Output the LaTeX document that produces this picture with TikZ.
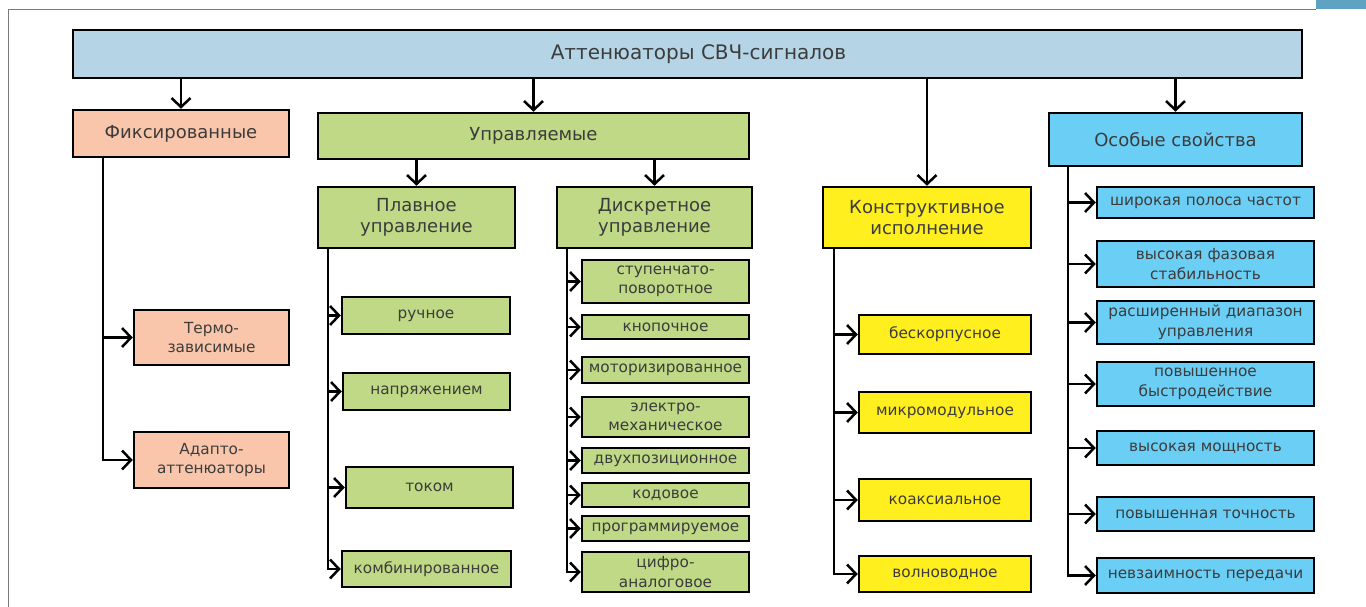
\documentclass[tikz,border=0pt]{standalone}
\usepackage{fontspec}
\setmainfont{DejaVu Sans}
\usetikzlibrary{arrows.meta}
\definecolor{txt}{HTML}{3C3C3C}
\definecolor{cmain}{HTML}{B5D4E5}
\definecolor{cfix}{HTML}{F9C6AB}
\definecolor{cgreen}{HTML}{BFD986}
\definecolor{cyel}{HTML}{FFEF1E}
\definecolor{ccyan}{HTML}{6BCEF5}
\definecolor{cframe}{HTML}{7A7A7A}
\definecolor{cpatch}{HTML}{5EA4C2}
\tikzset{
  box/.style={draw=black, line width=2.5pt, text=txt, align=center, inner sep=0pt, rectangle},
  big/.style={font=\fontsize{20}{24}\selectfont},
  mid/.style={font=\fontsize{18}{21}\selectfont},
  sml/.style={font=\fontsize{15.3}{19.5}\selectfont},
  arr/.style={line width=2.5pt, -{Straight Barb[length=9pt,width=19pt,line width=2.5pt]}},
}
\begin{document}
\begin{tikzpicture}[x=1pt,y=-1pt]
\useasboundingbox (0,0) rectangle (1366,607);
% frame
\fill[cpatch] (1316,0) rectangle (1366,9);
\draw[cframe, line width=1.3pt] (8.5,607) -- (8.5,9.5) -- (1316,9.5);
% top level
\node[box, big, fill=cmain, minimum width=1229pt, minimum height=48pt] (main) at (687.5,54) {\hspace*{22pt}Аттенюаторы СВЧ-сигналов};
\node[box, mid, fill=cfix, minimum width=216pt, minimum height=47pt] (fix) at (181,133.5) {Фиксированные};
\node[box, mid, fill=cgreen, minimum width=431pt, minimum height=46pt] (upr) at (533.5,136) {Управляемые};
\node[box, mid, fill=cyel, minimum width=208pt, minimum height=61pt] (kon) at (927,217.5) {Конструктивное\\исполнение};
\node[box, mid, fill=ccyan, minimum width=253pt, minimum height=53pt] (osob) at (1175.5,139.5) {Особые свойства};
\node[box, mid, fill=cgreen, minimum width=197pt, minimum height=61pt] (plav) at (416.5,217.5) {Плавное\\управление};
\node[box, mid, fill=cgreen, minimum width=195pt, minimum height=61pt] (disk) at (654.5,217.5) {Дискретное\\управление};
% fixed children
\node[box, sml, fill=cfix, minimum width=155pt, minimum height=55pt] (termo) at (211.5,337.5) {Термо-\\зависимые};
\node[box, sml, fill=cfix, minimum width=155pt, minimum height=56pt] (adapt) at (211.5,460) {Адапто-\\аттенюаторы};
% smooth children
\node[box, sml, fill=cgreen, minimum width=168pt, minimum height=37pt] (ruch) at (426,315.5) {ручное};
\node[box, sml, fill=cgreen, minimum width=167pt, minimum height=37pt] (napr) at (426.5,391.5) {напряжением};
\node[box, sml, fill=cgreen, minimum width=167pt, minimum height=41pt] (tok) at (429.5,487.5) {током};
\node[box, sml, fill=cgreen, minimum width=169pt, minimum height=36pt] (komb) at (426.5,569) {комбинированное};
% discrete children
\node[box, sml, fill=cgreen, minimum width=167pt, minimum height=43pt] (stup) at (665.5,281.5) {ступенчато-\\поворотное};
\node[box, sml, fill=cgreen, minimum width=167pt, minimum height=24pt] (knop) at (665.5,327) {кнопочное};
\node[box, sml, fill=cgreen, minimum width=167pt, minimum height=26pt] (motor) at (665.5,370) {моторизированное};
\node[box, sml, fill=cgreen, minimum width=167pt, minimum height=40pt] (elek) at (665.5,417) {электро-\\механическое};
\node[box, sml, fill=cgreen, minimum width=167pt, minimum height=25pt] (dvuh) at (665.5,460.5) {двухпозиционное};
\node[box, sml, fill=cgreen, minimum width=167pt, minimum height=24pt] (kod) at (665.5,495) {кодовое};
\node[box, sml, fill=cgreen, minimum width=167pt, minimum height=25pt] (prog) at (665.5,528.5) {программируемое};
\node[box, sml, fill=cgreen, minimum width=167pt, minimum height=40pt] (cifr) at (665.5,572) {цифро-\\аналоговое};
% construction children
\node[box, sml, fill=cyel, minimum width=172pt, minimum height=39pt] (besk) at (945,334.5) {бескорпусное};
\node[box, sml, fill=cyel, minimum width=172pt, minimum height=41pt] (mikr) at (945,412.5) {микромодульное};
\node[box, sml, fill=cyel, minimum width=172pt, minimum height=42pt] (koax) at (945,500) {коаксиальное};
\node[box, sml, fill=cyel, minimum width=172pt, minimum height=36pt] (voln) at (945,574) {волноводное};
% special children
\node[box, sml, fill=ccyan, minimum width=217pt, minimum height=31pt] (shir) at (1205.5,202.5) {широкая полоса частот};
\node[box, sml, fill=ccyan, minimum width=217pt, minimum height=46pt] (faz) at (1205.5,264) {высокая фазовая\\стабильность};
\node[box, sml, fill=ccyan, minimum width=217pt, minimum height=43pt] (rash) at (1205.5,322.5) {расширенный диапазон\\управления};
\node[box, sml, fill=ccyan, minimum width=217pt, minimum height=44pt] (bystr) at (1205.5,384) {повышенное\\быстродействие};
\node[box, sml, fill=ccyan, minimum width=217pt, minimum height=34pt] (mosch) at (1205.5,448) {высокая мощность};
\node[box, sml, fill=ccyan, minimum width=217pt, minimum height=34pt] (tochn) at (1205.5,514) {повышенная точность};
\node[box, sml, fill=ccyan, minimum width=217pt, minimum height=35pt] (nevz) at (1205.5,575.5) {невзаимность передачи};
% connectors from main
\draw[arr] (main.south -| fix.north) -- (fix.north);
\draw[arr] (main.south -| upr.north) -- (upr.north);
\draw[arr] (main.south -| kon.north) -- (kon.north);
\draw[arr] (main.south -| osob.north) -- (osob.north);
\draw[arr] (upr.south -| plav.north) -- (plav.north);
\draw[arr] (upr.south -| disk.north) -- (disk.north);
% trunks
\coordinate (tf) at (103,157);
\coordinate (tp) at (328,248);
\coordinate (td) at (567,248);
\coordinate (tk) at (834,248);
\coordinate (to) at (1068,166);
\foreach \c in {termo,adapt} \draw[arr] (tf) |- (\c.west);
\foreach \c in {ruch,napr,tok,komb} \draw[arr] (tp) |- (\c.west);
\foreach \c in {stup,knop,motor,elek,dvuh,kod,prog,cifr} \draw[arr] (td) |- (\c.west);
\foreach \c in {besk,mikr,koax,voln} \draw[arr] (tk) |- (\c.west);
\foreach \c in {shir,faz,rash,bystr,mosch,tochn,nevz} \draw[arr] (to) |- (\c.west);
\end{tikzpicture}
\end{document}
